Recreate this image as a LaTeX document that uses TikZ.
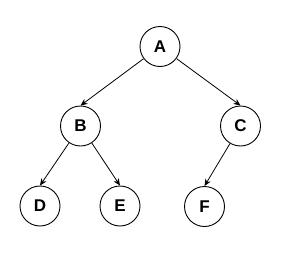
\documentclass[tikz,border=0pt]{standalone}
\usepackage{fontspec}
\setmainfont{Liberation Sans}
\usetikzlibrary{arrows.meta}
\begin{document}
\begin{tikzpicture}[x=1pt,y=-1pt,
  treenode/.style={circle,draw=black,line width=0.9pt,minimum size=40pt,inner sep=0pt,
    font=\fontsize{17}{17}\selectfont\bfseries},
  treeedge/.style={draw=black,line width=0.8pt,-{Stealth[length=7pt,width=6pt,inset=2.2pt]}}]
\useasboundingbox (0,0) rectangle (281,252);
\node[treenode] (A) at (160,46.5) {A};
\node[treenode] (B) at (80.5,126) {B};
\node[treenode] (C) at (240.5,126) {C};
\node[treenode] (D) at (40,206) {D};
\node[treenode] (E) at (120,206) {E};
\node[treenode] (F) at (204.5,206.5) {F};
\draw[treeedge] (A) -- (B.north);
\draw[treeedge] (A) -- (C.north);
\draw[treeedge] (B) -- (D.north);
\draw[treeedge] (B) -- (E.north);
\draw[treeedge] (C) -- (F.north);
\end{tikzpicture}
\end{document}
